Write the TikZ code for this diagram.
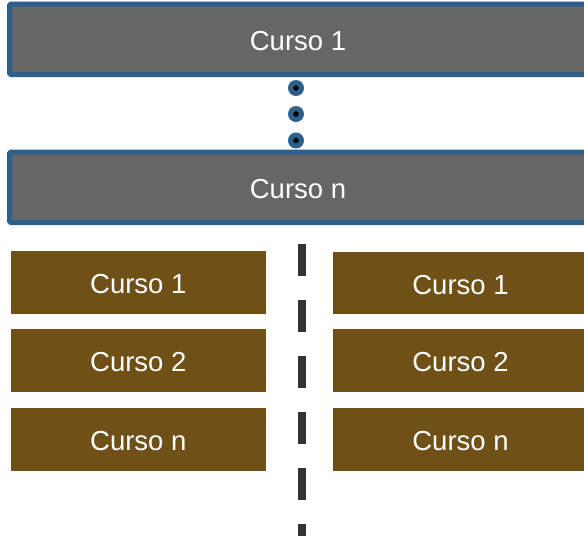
\documentclass[tikz,border=0pt]{standalone}
\usepackage{fontspec}
\setmainfont{Liberation Sans}
\definecolor{boxgray}{HTML}{666666}
\definecolor{boxblue}{HTML}{2C5F8A}
\definecolor{boxbrown}{HTML}{6F5118}
\definecolor{dashgray}{HTML}{333333}
\begin{document}
\begin{tikzpicture}[x=1pt,y=-1pt,
  labeltext/.style={text=white, font=\fontsize{27.5}{27.5}\selectfont, text height=22.7pt, text depth=0pt},
  topbox/.style={labeltext, draw=boxblue, line width=5pt, fill=boxgray, rounded corners=1.5pt,
    minimum width=577pt, minimum height=70.5pt, inner sep=0pt},
  brownbox/.style={labeltext, fill=boxbrown,
    minimum width=254.7pt, minimum height=62.7pt, inner sep=0pt},
  dotouter/.style={circle, fill=boxblue, minimum size=16pt, inner sep=0pt},
  dotinner/.style={circle, fill=black, minimum size=5.5pt, inner sep=0pt},
  divider/.style={draw=dashgray, line width=8pt, dash pattern=on 32pt off 24pt}]
\useasboundingbox (0,0) rectangle (584,539);
\node[topbox] (c1) at (298,39.25) {Curso 1};
\node[topbox] (cn) at (298,187.25) {Curso n};
\foreach \i/\y in {1/88,2/114,3/140.5}{
  \node[dotouter] (dot\i) at (296,\y) {};
  \node[dotinner] (dotc\i) at (dot\i) {};
}
\coordinate (dtop) at (302,244);
\coordinate (dbot) at (302,536);
\draw[divider] (dtop) -- (dbot);
\node[brownbox] (l1) at (138.3,282.3) {Curso 1};
\node[brownbox] (l2) at (138.3,360.3) {Curso 2};
\node[brownbox] (l3) at (138.3,439.3) {Curso n};
\node[brownbox] (r1) at (460.5,283) {Curso 1};
\node[brownbox] (r2) at (460.5,360.3) {Curso 2};
\node[brownbox] (r3) at (460.5,439.3) {Curso n};
\end{tikzpicture}
\end{document}
